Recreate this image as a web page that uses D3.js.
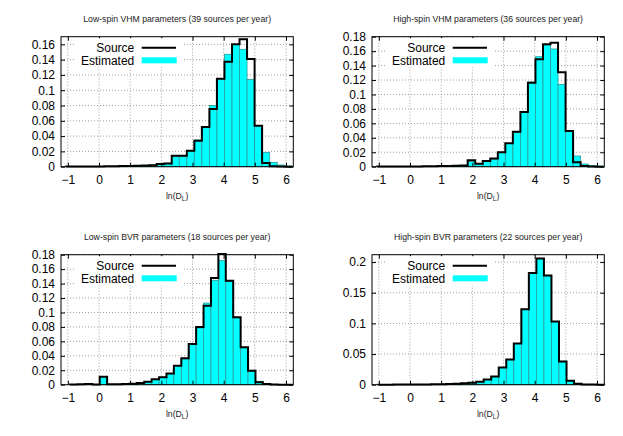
<!DOCTYPE html>
<html>
<head>
<meta charset="utf-8">
<script src="https://cdn.jsdelivr.net/npm/d3@7"></script>
<style>
  body { margin: 0; background: #fff; }
  svg { display: block; font-family: "Liberation Sans", Arial, sans-serif; }
</style>
</head>
<body>
<div id="chart"></div>
<script>
// panel titles
const titles = [
  'Low-spin VHM parameters (39 sources per year)',
  'High-spin VHM parameters (36 sources per year)',
  'Low-spin BVR parameters (18 sources per year)',
  'High-spin BVR parameters (22 sources per year)'
];

const xTicks = [-1, 0, 1, 2, 3, 4, 5, 6];
const yTicks16 = [0, 0.02, 0.04, 0.06, 0.08, 0.1, 0.12, 0.14, 0.16];
const yTicks18 = [0, 0.02, 0.04, 0.06, 0.08, 0.1, 0.12, 0.14, 0.16, 0.18];
const yTicks20 = [0, 0.05, 0.1, 0.15, 0.2];

// bin edges in ln(D_L)
const edgesVhm = [-1.05, -0.808, -0.567, -0.325, -0.083, 0.158, 0.4, 0.642, 0.883, 1.125, 1.367, 1.608, 1.85, 2.092, 2.333,
  2.575, 2.817, 3.058, 3.3, 3.542, 3.783, 4.025, 4.267, 4.508, 4.75, 4.992, 5.233, 5.475, 5.717, 5.958, 6.2];
const edgesBvrLow = [-0.93, -0.692, -0.454, -0.216, 0.022, 0.26, 0.498, 0.736, 0.974, 1.212, 1.45, 1.688, 1.926, 2.164, 2.402,
  2.64, 2.878, 3.116, 3.354, 3.592, 3.83, 4.068, 4.306, 4.544, 4.782, 5.02, 5.258, 5.496, 5.734, 5.972, 6.21];
const edgesBvrHigh = [-1.02, -0.778, -0.537, -0.295, -0.053, 0.188, 0.43, 0.672, 0.913, 1.155, 1.397, 1.638, 1.88, 2.122, 2.363,
  2.605, 2.847, 3.088, 3.33, 3.572, 3.813, 4.055, 4.297, 4.538, 4.78, 5.022, 5.263, 5.505, 5.747, 5.988, 6.23];

// normalised counts per bin
const lowVhmSource = [0.0002, 0.0002, 0.0003, 0.0003, 0.0004, 0.0005, 0.0006, 0.0008, 0.001, 0.0012, 0.0015, 0.002, 0.0035, 0.0043, 0.0144,
  0.0144, 0.021, 0.034, 0.052, 0.0755, 0.115, 0.1374, 0.160, 0.1666, 0.141, 0.0535, 0.005, 0.0005, 0.0001, 0];
const lowVhmEstimated = [0.0001, 0.0002, 0.0002, 0.0003, 0.0003, 0.0004, 0.0005, 0.0007, 0.0009, 0.0011, 0.0014, 0.002, 0.003, 0.0045, 0.013,
  0.013, 0.0205, 0.035, 0.0523, 0.080, 0.1147, 0.147, 0.1597, 0.1535, 0.114, 0.0536, 0.0185, 0.0057, 0.0022, 0.001];

const highVhmSource = [0.0002, 0.0002, 0.0002, 0.0003, 0.0003, 0.0004, 0.0005, 0.0006, 0.0008, 0.001, 0.0012, 0.0015, 0.009, 0.0042, 0.0078,
  0.0113, 0.020, 0.0324, 0.0485, 0.0757, 0.1163, 0.1487, 0.1695, 0.1717, 0.1307, 0.0494, 0.006, 0.001, 0.0003, 0];
const highVhmEstimated = [0.0001, 0.0002, 0.0002, 0.0002, 0.0003, 0.0004, 0.0005, 0.0006, 0.0007, 0.0009, 0.0011, 0.0014, 0.0075, 0.004, 0.0075,
  0.0105, 0.0194, 0.032, 0.0475, 0.0757, 0.1173, 0.1523, 0.1686, 0.163, 0.114, 0.0494, 0.0148, 0.0037, 0.0018, 0.001];

const lowBvrSource = [0.0004, 0.0005, 0.0008, 0.0003, 0.011, 0.0005, 0.0006, 0.0009, 0.0014, 0.0023, 0.0042, 0.0074, 0.0104, 0.0155, 0.0263,
  0.0365, 0.0564, 0.080, 0.1094, 0.1477, 0.181, 0.144, 0.0933, 0.0518, 0.0194, 0.0033, 0.0008, 0.0003, 0.0001, 0];
const lowBvrEstimated = [0.0003, 0.0004, 0.0007, 0.0003, 0.0105, 0.0004, 0.0006, 0.0009, 0.0013, 0.0022, 0.004, 0.0072, 0.0102, 0.0152, 0.026,
  0.0358, 0.0555, 0.0785, 0.113, 0.1445, 0.1717, 0.143, 0.0925, 0.051, 0.019, 0.0047, 0.0015, 0.0005, 0.0002, 0.0001];

const highBvrSource = [0.0001, 0.0001, 0.0002, 0.0002, 0.0003, 0.0003, 0.0004, 0.0006, 0.0008, 0.001, 0.0015, 0.0025, 0.0033, 0.005, 0.0085,
  0.0135, 0.028, 0.041, 0.067, 0.123, 0.182, 0.206, 0.178, 0.103, 0.038, 0.0066, 0.0016, 0.0005, 0.0002, 0.0001];
const highBvrEstimated = [0.0001, 0.0001, 0.0002, 0.0002, 0.0003, 0.0003, 0.0004, 0.0006, 0.0008, 0.001, 0.0015, 0.0025, 0.0033, 0.005, 0.0086,
  0.0134, 0.0282, 0.0408, 0.0672, 0.1232, 0.1818, 0.2058, 0.1782, 0.1028, 0.0382, 0.0067, 0.0017, 0.0005, 0.0002, 0.0001];

const panels = [
  { title: titles[0], left: 61, top: 36.7, ymax: 0.17, yTicks: yTicks16, edges: edgesVhm, source: lowVhmSource, est: lowVhmEstimated },
  { title: titles[1], left: 372, top: 36.7, ymax: 0.18, yTicks: yTicks18, edges: edgesVhm, source: highVhmSource, est: highVhmEstimated },
  { title: titles[2], left: 61, top: 254.7, ymax: 0.18, yTicks: yTicks18, edges: edgesBvrLow, source: lowBvrSource, est: lowBvrEstimated },
  { title: titles[3], left: 372, top: 254.7, ymax: 0.212, yTicks: yTicks20, edges: edgesBvrHigh, source: highBvrSource, est: highBvrEstimated }
];

const W = 623, H = 436;
const pw = 232.3, ph = 130;
const tickLen = 4;

const svg = d3.select('#chart').append('svg')
  .attr('width', W)
  .attr('height', H);

svg.append('rect').attr('width', W).attr('height', H).attr('fill', '#fff');

const fmt = (d) => String(+d.toFixed(2));

panels.forEach((p) => {
  const g = svg.append('g').attr('transform', `translate(${p.left},${p.top})`);

  const x = d3.scaleLinear().domain([-1.22, 6.234]).range([0, pw]);
  const y = d3.scaleLinear().domain([0, p.ymax]).range([ph, 0]);

  // grid
  const grid = g.append('g').attr('stroke', '#a0a0a0').attr('stroke-dasharray', '1,2').attr('stroke-width', 1);
  grid.selectAll('.gx').data(xTicks).enter().append('line')
    .attr('x1', (d) => x(d)).attr('x2', (d) => x(d))
    .attr('y1', 0).attr('y2', ph);
  grid.selectAll('.gy').data(p.yTicks.slice(1)).enter().append('line')
    .attr('x1', 0).attr('x2', pw)
    .attr('y1', (d) => y(d)).attr('y2', (d) => y(d));

  // estimated bars
  const bins = p.est.map((v, i) => ({ x0: p.edges[i], x1: p.edges[i + 1], v }));
  g.append('g').selectAll('rect').data(bins).enter().append('rect')
    .attr('x', (d) => x(d.x0))
    .attr('width', (d) => x(d.x1) - x(d.x0))
    .attr('y', (d) => y(d.v))
    .attr('height', (d) => y(0) - y(d.v))
    .attr('fill', '#00ffff')
    .attr('stroke', '#2f9a9a')
    .attr('stroke-width', 0.8);

  // source step outline
  const pts = [[p.edges[0], 0]];
  p.source.forEach((v, i) => pts.push([p.edges[i], v]));
  pts.push([p.edges[p.edges.length - 1], p.source[p.source.length - 1]]);
  pts.push([p.edges[p.edges.length - 1], 0]);
  const line = d3.line()
    .x((d) => x(d[0]))
    .y((d) => y(d[1]))
    .curve(d3.curveStepAfter);
  g.append('path')
    .attr('d', line(pts))
    .attr('fill', 'none')
    .attr('stroke', '#000')
    .attr('stroke-width', 2)
    .attr('stroke-linejoin', 'miter');

  // axes
  const axisStyle = (sel) => {
    sel.select('.domain').remove();
    sel.selectAll('line').attr('stroke', '#000');
    sel.selectAll('text').attr('fill', '#000').attr('font-size', 12);
  };
  g.append('g').attr('transform', `translate(0,${ph})`)
    .call(d3.axisBottom(x).tickValues(xTicks).tickSize(-tickLen).tickPadding(9).tickFormat(d3.format('d')))
    .call(axisStyle)
    .attr('font-family', null);
  g.append('g')
    .call(d3.axisTop(x).tickValues(xTicks).tickSize(-tickLen).tickFormat(''))
    .call(axisStyle);
  g.append('g')
    .call(d3.axisLeft(y).tickValues(p.yTicks).tickSize(-tickLen).tickPadding(6).tickFormat(fmt))
    .call(axisStyle)
    .attr('font-family', null);
  g.append('g').attr('transform', `translate(${pw},0)`)
    .call(d3.axisRight(y).tickValues(p.yTicks).tickSize(-tickLen).tickFormat(''))
    .call(axisStyle);

  // key (opaque)
  const key = g.append('g');
  key.append('rect')
    .attr('x', 15).attr('y', 1.5).attr('width', 106).attr('height', 29)
    .attr('fill', '#fff');
  key.append('text')
    .attr('x', 73.3).attr('y', 15.3)
    .attr('text-anchor', 'end').attr('font-size', 12).text('Source');
  key.append('line')
    .attr('x1', 80.7).attr('x2', 115).attr('y1', 11).attr('y2', 11)
    .attr('stroke', '#000').attr('stroke-width', 2);
  key.append('text')
    .attr('x', 73.3).attr('y', 27.9)
    .attr('text-anchor', 'end').attr('font-size', 12).text('Estimated');
  key.append('rect')
    .attr('x', 80.7).attr('y', 20.6).attr('width', 35).attr('height', 6)
    .attr('fill', '#00ffff');

  // frame
  g.append('rect')
    .attr('width', pw).attr('height', ph)
    .attr('fill', 'none').attr('stroke', '#000').attr('stroke-width', 1);

  // title and x label
  g.append('text')
    .attr('x', pw / 2).attr('y', -14.5)
    .attr('text-anchor', 'middle').attr('font-size', 8.7).attr('fill', '#222')
    .text(p.title);
  const xl = g.append('text')
    .attr('x', pw / 2).attr('y', ph + 32.5)
    .attr('text-anchor', 'middle').attr('font-size', 8.7).attr('fill', '#222');
  xl.append('tspan').text('ln(D');
  xl.append('tspan').attr('font-size', 6.5).attr('dy', 2).text('L');
  xl.append('tspan').attr('dy', -2).text(')');
});
</script>
</body>
</html>
